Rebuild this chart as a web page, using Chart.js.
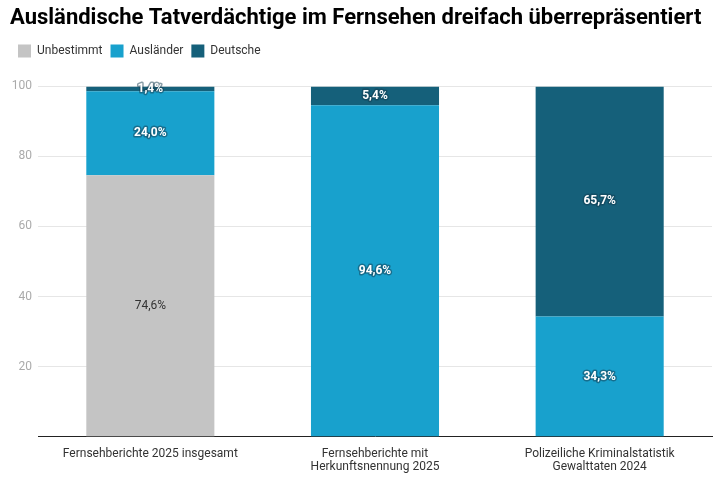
<!DOCTYPE html>
<html lang="de">
<head>
<meta charset="UTF-8" />
<title>Ausländische Tatverdächtige</title>
<script src="https://cdn.jsdelivr.net/npm/chart.js"></script>
<style>
  html, body { margin: 0; padding: 0; background: #fff; }
  #wrap { width: 724px; height: 485px; position: relative; }
</style>
</head>
<body>
<div id="wrap"><canvas id="chart"></canvas></div>
<script>
  // data
  const categories = [
    "Fernsehberichte 2025 insgesamt",
    ["Fernsehberichte mit", "Herkunftsnennung 2025"],
    ["Polizeiliche Kriminalstatistik", "Gewalttaten 2024"]
  ];
  const unbestimmt = [74.6, 0, 0];
  const auslaender = [24.0, 94.6, 34.3];
  const deutsche = [1.4, 5.4, 65.7];
  const yTicks = [20, 40, 60, 80, 100];

  // draw the percent labels inside each segment
  const segLabels = {
    id: "segLabels",
    beforeLayout(chart) {
      // extra gap under the legend
      const lg = chart.legend;
      if (lg && !lg._gapSet) {
        lg._gapSet = true;
        const fit = lg.fit;
        lg.fit = function () { fit.call(this); this.height += 19; };
      }
    },
    afterDatasetsDraw(chart) {
      const ctx = chart.ctx;
      chart.data.datasets.forEach((ds, i) => {
        const meta = chart.getDatasetMeta(i);
        meta.data.forEach((bar, j) => {
          const v = ds.data[j];
          if (!v) return;
          const txt = v.toFixed(1).replace(".", ",") + "%";
          const y = (bar.y + bar.base) / 2;
          ctx.save();
          ctx.textAlign = "center";
          ctx.textBaseline = "middle";
          if (i === 0) {
            ctx.font = "12px Roboto";
            ctx.fillStyle = "#333";
            ctx.fillText(txt, bar.x, y);
          } else {
            ctx.font = "bold 12px Roboto";
            ctx.lineWidth = 3;
            ctx.strokeStyle = "rgba(20,60,80,0.5)";
            ctx.lineJoin = "round";
            ctx.strokeText(txt, bar.x, y);
            ctx.fillStyle = "#fff";
            ctx.fillText(txt, bar.x, y);
          }
          ctx.restore();
        });
      });
    }
  };

  new Chart(document.getElementById("chart"), {
    type: "bar",
    data: {
      labels: categories,
      datasets: [
        { label: "Unbestimmt", data: unbestimmt, backgroundColor: "#c4c4c4" },
        { label: "Ausländer", data: auslaender, backgroundColor: "#18a1cd" },
        { label: "Deutsche", data: deutsche, backgroundColor: "#15607a" }
      ]
    },
    options: {
      responsive: true,
      maintainAspectRatio: false,
      animation: false,
      layout: { padding: { left: 10, right: 12, top: 4, bottom: 8 } },
      datasets: { bar: { barPercentage: 0.57, categoryPercentage: 1 } },
      plugins: {
        title: {
          display: true,
          text: "Ausländische Tatverdächtige im Fernsehen dreifach überrepräsentiert",
          align: "start",
          color: "#000",
          font: { family: "Roboto", size: 22, weight: "bold" },
          padding: { top: 1, bottom: 5 }
        },
        legend: {
          align: "start",
          labels: {
            boxWidth: 13,
            boxHeight: 13,
            padding: 8,
            color: "#333",
            font: { family: "Roboto", size: 12 }
          }
        },
        tooltip: { enabled: false }
      },
      scales: {
        x: {
          stacked: true,
          grid: { display: false },
          border: { color: "#222", width: 1 },
          ticks: { color: "#333", font: { family: "Roboto", size: 12, lineHeight: 1.1 }, maxRotation: 0 }
        },
        y: {
          stacked: true,
          min: 0,
          max: 100,
          afterBuildTicks(axis) {
            axis.ticks = yTicks.map(v => ({ value: v }));
          },
          afterFit(axis) { axis.width = 28; },
          grid: { color: "#e6e6e6", drawTicks: false },
          border: { display: false },
          ticks: { color: "#aaa", font: { family: "Roboto", size: 12 }, padding: 6 }
        }
      }
    },
    plugins: [segLabels]
  });
</script>
</body>
</html>
